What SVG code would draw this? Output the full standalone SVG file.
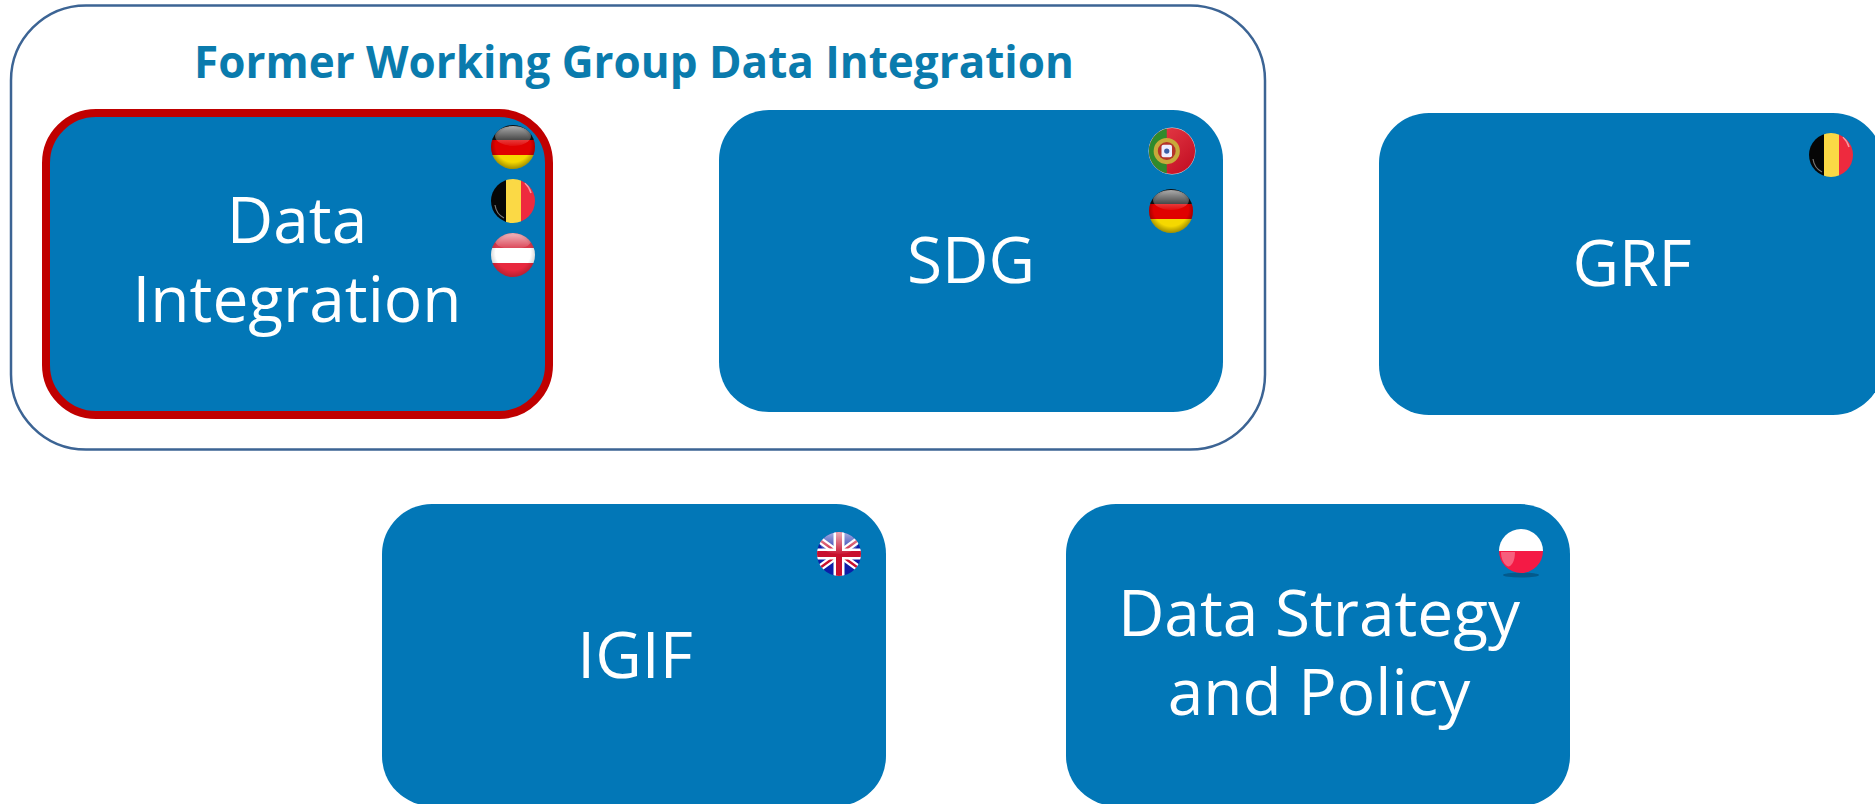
<svg xmlns="http://www.w3.org/2000/svg" width="1875" height="804" viewBox="0 0 1875 804">
<style>
.box{fill:#0277b7}
.lbl{font-family:"Open Sans","Noto Sans",sans-serif;font-size:64px;fill:#fff;text-anchor:middle}
.title{font-family:"Open Sans","Noto Sans",sans-serif;font-weight:700;font-size:44px;fill:#0a7bad;text-anchor:middle}
</style>
<defs>
<clipPath id="c"><circle r="22"/></clipPath>
<linearGradient id="gloss" x1="0" y1="0" x2="0" y2="1"><stop offset="0" stop-color="#fff" stop-opacity=".65"/><stop offset="1" stop-color="#fff" stop-opacity=".05"/></linearGradient>
<radialGradient id="shade" cx=".5" cy=".45" r=".55"><stop offset=".72" stop-color="#000" stop-opacity="0"/><stop offset="1" stop-color="#000" stop-opacity=".35"/></radialGradient>
<linearGradient id="ptred" x1="0" y1="0" x2="1" y2="1"><stop offset="0" stop-color="#e8404a"/><stop offset="1" stop-color="#c00a20"/></linearGradient>
<g id="de"><g clip-path="url(#c)"><rect x="-22" y="-22" width="44" height="15" fill="#111"/><rect x="-22" y="-7" width="44" height="15" fill="#e00000"/><rect x="-22" y="8" width="44" height="14" fill="#f5d800"/><ellipse cy="-11" rx="18" ry="10" fill="url(#gloss)"/></g><circle r="22" fill="url(#shade)"/></g>
<g id="be"><g clip-path="url(#c)"><rect x="-22" y="-22" width="15" height="44" fill="#060606"/><rect x="-7" y="-22" width="15" height="44" fill="#fbd945"/><rect x="8" y="-22" width="14" height="44" fill="#ee2a3e"/><path d="M-18 4C-17 11-13 15-9 17" fill="none" stroke="#aaa" stroke-width="1.2" opacity=".7"/><path d="M12-18C15-15 17-12 18-8" fill="none" stroke="#fff" stroke-width="1.5" opacity=".5"/></g></g>
<g id="at"><g clip-path="url(#c)"><rect x="-22" y="-22" width="44" height="15" fill="#d9394c"/><rect x="-22" y="-7" width="44" height="15" fill="#fff"/><rect x="-22" y="8" width="44" height="14" fill="#e8283e"/><ellipse cy="-14" rx="18" ry="8" fill="url(#gloss)"/></g><circle r="22" fill="url(#shade)" opacity=".6"/></g>
<g id="pt"><circle r="23.5" fill="#ddd"/><g clip-path="url(#c)" transform="scale(1.05)"><rect x="-22" y="-22" width="44" height="44" fill="url(#ptred)"/><rect x="-22" y="-22" width="17" height="44" fill="#2f8a2c"/><circle cx="-5" r="12.5" fill="#c8a93a"/><circle cx="-5" r="8.5" fill="#b5342a"/><rect x="-10" y="-6" width="10" height="12" rx="2" fill="#eef"/><circle cx="-5" r="2.5" fill="#3a5fa8"/></g></g>
<g id="uk"><g clip-path="url(#c)"><rect x="-22" y="-22" width="44" height="44" fill="#0c1ea8"/><path d="M-22-16 22 16M-22 16 22-16" stroke="#fff" stroke-width="7"/><path d="M-22-16 22 16M-22 16 22-16" stroke="#c8102e" stroke-width="2.5"/><path d="M0-22V22M-22 0H22" stroke="#fff" stroke-width="11"/><path d="M0-22V22M-22 0H22" stroke="#c8102e" stroke-width="6"/><ellipse cy="-11" rx="19" ry="11" fill="url(#gloss)"/></g></g>
<g id="pl"><ellipse cy="24" rx="18" ry="2.5" fill="#035a8c"/><g clip-path="url(#c)"><rect x="-22" y="-22" width="44" height="22" fill="#fff"/><rect x="-22" y="0" width="44" height="22" fill="#f41a45"/><path d="M-20 1H-6C-6 12-11 17-14 15-18 12-20 7-20 1Z" fill="#fff" opacity=".3"/></g></g>
</defs>
<rect width="1875" height="804" fill="#fff"/>
<g id="group-former">
<rect x="11" y="5.5" width="1254" height="444" rx="75" fill="#fff" stroke="#3c6494" stroke-width="2.5"/>
<text class="title" x="634" y="78">Former Working Group Data Integration</text>
</g>
<g id="node-data-integration">
<rect class="box" x="46" y="113" width="503" height="302" rx="50" stroke="#c00000" stroke-width="8"/>
<text class="lbl" x="297" y="243">Data</text>
<text class="lbl" x="297" y="322">Integration</text>
<use href="#de" x="513" y="147"/><use href="#be" x="513" y="201"/><use href="#at" x="513" y="255"/>
</g>
<g id="node-sdg">
<rect class="box" x="719" y="110" width="504" height="302" rx="50"/>
<text class="lbl" x="971" y="283">SDG</text>
<use href="#pt" x="1172" y="151"/><use href="#de" x="1171" y="211"/>
</g>
<g id="node-grf">
<rect class="box" x="1379" y="113" width="504" height="302" rx="50"/>
<text class="lbl" x="1632" y="286">GRF</text>
<use href="#be" x="1831" y="155"/>
</g>
<g id="node-igif">
<rect class="box" x="382" y="504" width="504" height="302" rx="50"/>
<text class="lbl" x="635" y="678">IGIF</text>
<use href="#uk" x="839" y="554"/>
</g>
<g id="node-data-strategy">
<rect class="box" x="1066" y="504" width="504" height="302" rx="50"/>
<text class="lbl" x="1319" y="636">Data Strategy</text>
<text class="lbl" x="1319" y="715">and Policy</text>
<use href="#pl" x="1521" y="551"/>
</g>
<g id="connectors"/>
</svg>
